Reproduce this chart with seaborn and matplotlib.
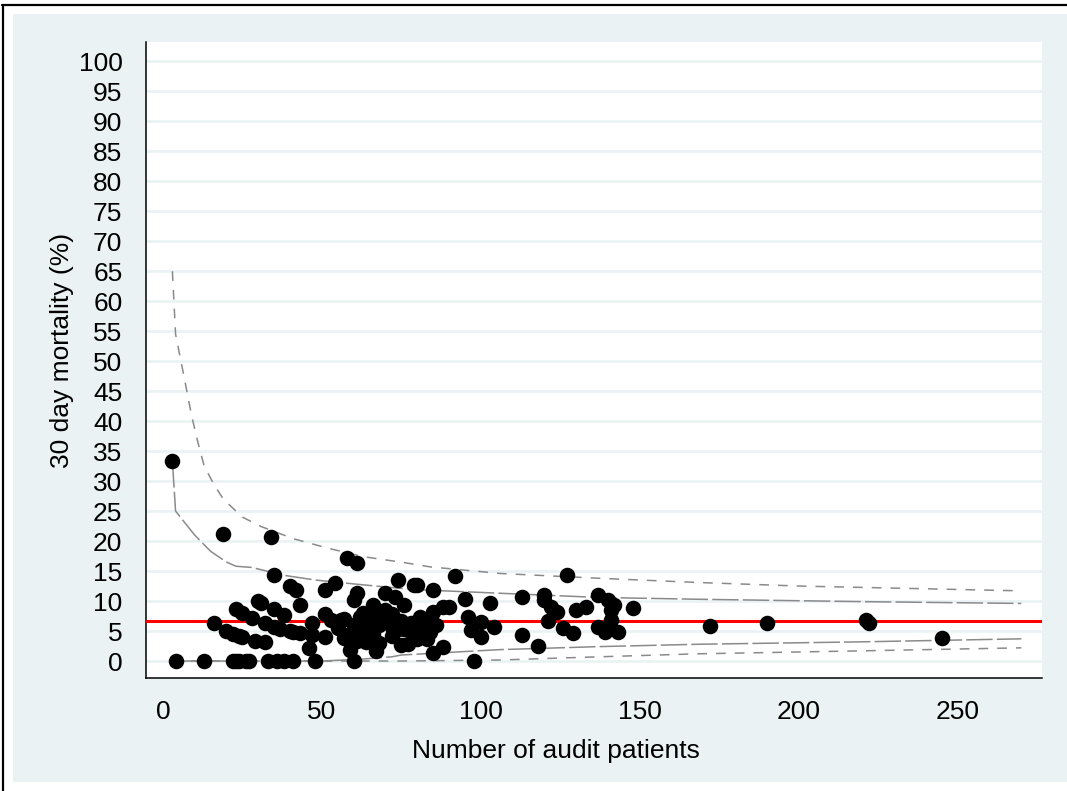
import matplotlib
matplotlib.use("Agg")
import matplotlib.pyplot as plt
import seaborn as sns
import pandas as pd
from matplotlib.patches import Rectangle
from matplotlib.lines import Line2D

# Hospital-level results: audit patients and 30 day mortality (%)
patients = [3, 4, 13, 22, 23, 24, 26, 27, 33, 36, 38, 41, 48, 60, 98,
            16, 19, 34, 35, 23, 25, 28, 20, 22, 24, 25, 29, 32, 30, 31,
            32, 35, 37, 35, 38, 40, 42, 43, 40, 41, 43, 47, 47, 46,
            51, 54, 58, 61, 51, 51, 53, 56, 57, 59, 60, 61, 62, 62, 64,
            65, 66, 67, 68, 69, 70, 70, 72, 72, 73, 74, 75, 76, 76, 77,
            78, 79, 80, 79, 81, 82, 83, 84, 85, 85, 85, 86, 88, 88, 90,
            92, 95, 96, 97, 100, 100, 103, 104,
            55, 57, 58, 60, 61, 63, 64, 66, 67, 68, 71, 72, 74, 75, 80,
            81, 83,
            113, 113, 118, 120, 120, 121, 122, 124, 126, 127, 129, 130,
            133, 137, 137, 139, 140, 141, 141, 142, 143, 148,
            172, 190, 221, 222, 245]
mortality = [33.3, 0, 0, 0, 0, 0, 0, 0, 0, 0, 0, 0, 0, 0, 0,
             6.3, 21.1, 20.6, 14.3, 8.7, 8.0, 7.1, 5.0, 4.5, 4.2, 4.0, 3.4, 3.1, 10.0, 9.7,
             6.3, 5.7, 5.4, 8.6, 7.7, 12.5, 11.9, 9.3, 5.0, 4.9, 4.7, 6.4, 4.3, 2.2,
             11.8, 13.0, 17.2, 16.4, 7.8, 4.0, 6.8, 6.8, 3.8, 1.8, 10.2, 11.3, 7.4, 4.6, 3.1,
             5.0, 9.3, 1.6, 6.0, 7.2, 8.5, 11.3, 5.6, 4.2, 10.7, 13.5, 6.7, 9.3, 5.3, 2.9,
             6.4, 12.7, 12.7, 4.4, 7.4, 5.0, 3.6, 4.8, 8.2, 11.8, 1.3, 6.0, 2.3, 9.0, 9.0,
             14.2, 10.4, 7.4, 5.2, 6.5, 4.0, 9.7, 5.7,
             5.5, 7.0, 4.3, 6.0, 3.3, 8.0, 6.3, 4.5, 7.5, 3.0, 6.5, 7.8, 5.4, 2.7, 3.7,
             5.8, 6.1,
             10.6, 4.4, 2.5, 11.0, 10.2, 6.6, 9.0, 8.2, 5.5, 14.3, 4.6, 8.5,
             9.0, 11.0, 5.7, 4.9, 10.2, 8.5, 6.8, 9.3, 4.9, 8.8,
             5.8, 6.4, 6.8, 6.3, 3.8]

# National average mortality (%)
overall_rate = 6.67

# Control limits (%) against number of audit patients
upper998_n = [3, 4, 7, 9, 11, 13, 16, 19, 25, 31, 41, 52, 63, 76, 84, 106, 137, 168, 200, 235, 270]
upper998 = [65.0, 54.5, 46.5, 41.0, 36.5, 32.5, 29.5, 27.0, 24.0, 22.4, 20.4, 18.8, 17.4, 16.4, 15.7,
            14.6, 13.8, 13.1, 12.5, 12.1, 11.7]
upper95_n = [3, 4, 10, 15, 20, 23, 28, 38, 48, 63, 75, 84, 106, 137, 168, 220, 270]
upper95 = [33.3, 25.0, 21.0, 18.3, 16.5, 15.8, 15.6, 14.3, 13.5, 12.7, 12.1, 11.8, 11.3, 10.6,
           10.3, 9.9, 9.6]
lower95_n = [3, 50, 63, 72, 75, 106, 137, 169, 220, 270]
lower95 = [0.0, 0.0, 0.33, 0.7, 1.0, 1.9, 2.4, 2.8, 3.2, 3.7]
lower998_n = [3, 75, 106, 137, 168, 220, 270]
lower998 = [0.0, 0.0, 0.17, 0.7, 1.2, 1.7, 2.2]

y_ticks = list(range(0, 101, 5))
x_ticks = [0, 50, 100, 150, 200, 250]

W, H = 1067, 791
sns.set_style("white")
plt.rcParams["font.family"] = ["Liberation Sans", "DejaVu Sans"]
plt.rcParams["lines.scale_dashes"] = False
plt.rcParams["text.color"] = "black"
plt.rcParams["axes.labelcolor"] = "black"

fig = plt.figure(figsize=(W / 100, H / 100), dpi=100, facecolor="white")

# Graph region background and outer frame
fig.patches.append(Rectangle((13 / W, 1 - 782 / H), 1 - 13 / W, (782 - 14) / H,
                             transform=fig.transFigure, facecolor="#EAF2F3",
                             edgecolor="none", zorder=-5))
fig.lines.append(Line2D([2 / W, 1], [1 - 4.5 / H, 1 - 4.5 / H], transform=fig.transFigure,
                        color="black", linewidth=1.6, zorder=-4))
fig.lines.append(Line2D([3 / W, 3 / W], [0, 1 - 4.5 / H], transform=fig.transFigure,
                        color="black", linewidth=1.6, zorder=-4))

ax = fig.add_axes([146 / W, 1 - 678 / H, (1042 - 146) / W, (678 - 42) / H])
ax.set_facecolor("white")

grid_color = "#EAF2F3"
for yv in y_ticks:
    ax.axhline(yv, color=grid_color, linewidth=1.9, zorder=0.5)

line_color = "#8A8A8A"
limits = [
    (upper998_n, upper998, (7, 6.5)),
    (upper95_n, upper95, (19, 3)),
    (lower95_n, lower95, (19, 3)),
    (lower998_n, lower998, (7, 6.5)),
]
for xs, ys, dash in limits:
    df_lim = pd.DataFrame({"n": xs, "pct": ys})
    sns.lineplot(data=df_lim, x="n", y="pct", ax=ax, color=line_color, linewidth=1.1,
                 sort=False, estimator=None, dashes=False, zorder=2)
    ax.lines[-1].set_dashes(dash)

ax.axhline(overall_rate, color="#FF0000", linewidth=2.2, zorder=3)

df = pd.DataFrame({"patients": patients, "mortality": mortality})
sns.scatterplot(data=df, x="patients", y="mortality", ax=ax, color="black", s=125,
                edgecolor="black", linewidth=0, zorder=4)

ax.set_xlim(-5.3, 276.5)
ax.set_ylim(-2.83, 103.2)
ax.set_yticks(y_ticks)
ax.set_yticklabels([str(v) for v in y_ticks])
ax.set_xticks(x_ticks)
ax.set_xticklabels([str(v) for v in x_ticks])

for side in ("top", "right"):
    ax.spines[side].set_visible(False)
for side in ("left", "bottom"):
    ax.spines[side].set_color("black")
    ax.spines[side].set_linewidth(1.1)

ax.tick_params(axis="both", which="major", direction="out", length=8, width=0.9,
               color="black", labelsize=19, labelcolor="black")
ax.tick_params(axis="y", pad=9)
ax.tick_params(axis="x", pad=8)
ax.set_xlabel("Number of audit patients", fontsize=19, color="black")
ax.set_ylabel("30 day mortality (%)", fontsize=19, color="black")
# Axis titles placed in figure pixel coordinates
ax.xaxis.set_label_coords(556 / W, 1 - 751 / H, transform=fig.transFigure)
ax.yaxis.set_label_coords(62 / W, 1 - 350 / H, transform=fig.transFigure)
ax.xaxis.label.set_va("center")
ax.yaxis.label.set_va("center")

fig.savefig("out.png", dpi=100, facecolor="white")
